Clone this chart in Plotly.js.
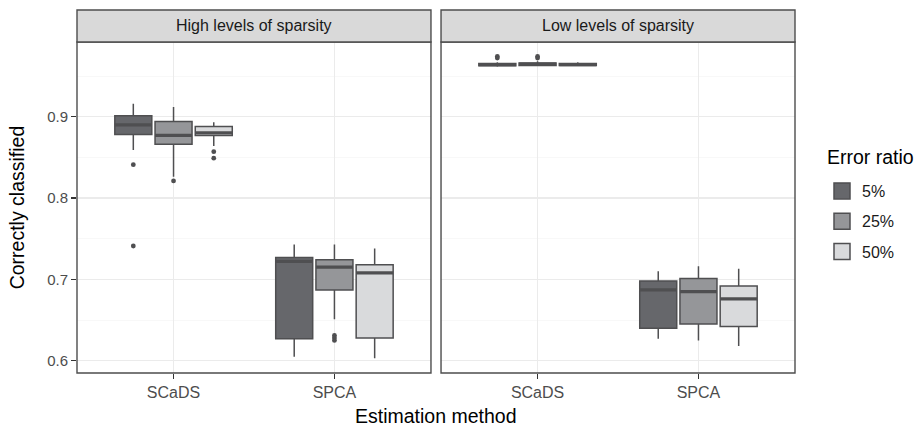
<!DOCTYPE html>
<html>
<head>
<meta charset="utf-8">
<script src="https://cdn.plot.ly/plotly-3.0.1.min.js"></script>
<style>html,body{margin:0;padding:0;background:#fff;}#chart{width:915px;height:428px;}</style>
</head>
<body>
<div id="chart"></div>
<script>
// ---- data ----
const panels = ["High levels of sparsity", "Low levels of sparsity"];
const methods = ["SCaDS", "SPCA"];
const ratios = ["5%", "25%", "50%"];

// stats per ratio -> [SCaDS, SPCA]
const high_q1     = [[0.878, 0.627], [0.866, 0.687], [0.877, 0.628]];
const high_median = [[0.890, 0.722], [0.877, 0.715], [0.880, 0.708]];
const high_q3     = [[0.901, 0.727], [0.894, 0.724], [0.888, 0.718]];
const high_lower  = [[0.859, 0.605], [0.826, 0.651], [0.864, 0.603]];
const high_upper  = [[0.916, 0.743], [0.912, 0.743], [0.893, 0.738]];
const high_outliers = [
  [[0.841, 0.741], []],
  [[0.821], [0.631, 0.628, 0.625]],
  [[0.857, 0.849], []]
];

const low_q1     = [[0.9625, 0.640], [0.9630, 0.645], [0.9628, 0.642]];
const low_median = [[0.9640, 0.687], [0.9645, 0.685], [0.9640, 0.676]];
const low_q3     = [[0.9655, 0.698], [0.9660, 0.701], [0.9655, 0.692]];
const low_lower  = [[0.9615, 0.627], [0.9620, 0.625], [0.9620, 0.618]];
const low_upper  = [[0.9670, 0.710], [0.9680, 0.716], [0.9670, 0.713]];
const low_outliers = [
  [[0.972, 0.974], []],
  [[0.972, 0.974], []],
  [[], []]
];

const yTicks = [0.6, 0.7, 0.8, 0.9];
const yMinor = [0.65, 0.75, 0.85, 0.95];

// ---- styling ----
const fills = ["#66676b", "#959699", "#d9dadc"];
const lineCol = "#4f4f51";
const dodge = 0.25, boxW = 0.23;
const font = "Liberation Sans, Arial, Helvetica, sans-serif";

const stats = [
  {q1: high_q1, med: high_median, q3: high_q3, lo: high_lower, up: high_upper, out: high_outliers},
  {q1: low_q1, med: low_median, q3: low_q3, lo: low_lower, up: low_upper, out: low_outliers}
];

const traces = [];
stats.forEach((s, p) => {
  const xa = p === 0 ? "x" : "x2";
  const ya = p === 0 ? "y" : "y2";
  ratios.forEach((r, k) => {
    const xs = methods.map((m, i) => (i + 1) + (k - 1) * dodge);
    traces.push({
      type: "box", name: r, xaxis: xa, yaxis: ya,
      x: xs, q1: s.q1[k], median: s.med[k], q3: s.q3[k],
      lowerfence: s.lo[k], upperfence: s.up[k],
      width: boxW, fillcolor: fills[k],
      line: {color: lineCol, width: 1.5},
      whiskerwidth: 0, boxpoints: false,
      showlegend: false, hoverinfo: "skip"
    });
    // thicker median bars
    const mx = [], my = [];
    xs.forEach((x, i) => { mx.push(x - boxW / 2, x + boxW / 2, null); my.push(s.med[k][i], s.med[k][i], null); });
    traces.push({
      type: "scatter", mode: "lines", xaxis: xa, yaxis: ya,
      x: mx, y: my, line: {color: lineCol, width: 3.2},
      showlegend: false, hoverinfo: "skip"
    });
    // outliers
    const ox = [], oy = [];
    methods.forEach((m, i) => {
      s.out[k][i].forEach(v => { ox.push(xs[i]); oy.push(v); });
    });
    if (ox.length) {
      traces.push({
        type: "scatter", mode: "markers", xaxis: xa, yaxis: ya,
        x: ox, y: oy,
        marker: {color: lineCol, size: 4.8},
        showlegend: false, hoverinfo: "skip"
      });
    }
  });
});
// legend keys
ratios.forEach((r, k) => {
  traces.push({
    type: "scatter", mode: "markers", name: r, x: [null], y: [null], xaxis: "x", yaxis: "y",
    marker: {symbol: "square", size: 16, color: fills[k], line: {color: lineCol, width: 1.5}},
    legendgroup: r, showlegend: true, hoverinfo: "skip"
  });
});

const yRange = [0.5849, 0.9918];
const xCommon = {
  range: [0.4, 2.6], tickvals: [1, 2], ticktext: methods,
  showgrid: true, gridcolor: "#ebebeb", gridwidth: 1.1,
  zeroline: false, showline: false,
  ticks: "outside", ticklen: 5, tickwidth: 1.1, tickcolor: "#333333",
  tickfont: {family: font, size: 16, color: "#4d4d4d"}
};
const yCommon = {
  range: yRange, tickvals: yTicks, ticktext: yTicks.map(v => v.toFixed(1)),
  showgrid: true, gridcolor: "#ebebeb", gridwidth: 1.1, zeroline: false,
  minor: {tickvals: yMinor, showgrid: true, gridcolor: "#f4f4f4", gridwidth: 0.6, ticks: ""},
  showline: false
};

const stripH = 32 / 331;
const shapes = [];
const annotations = [];
["x", "x2"].forEach((xa, p) => {
  const ya = p === 0 ? "y" : "y2";
  shapes.push({type: "rect", xref: xa + " domain", yref: ya + " domain", x0: 0, x1: 1, y0: 0, y1: 1,
    line: {color: "#4d4d4d", width: 1.4}, fillcolor: "rgba(0,0,0,0)", layer: "above"});
  shapes.push({type: "rect", xref: xa + " domain", yref: ya + " domain", x0: 0, x1: 1, y0: 1, y1: 1 + stripH,
    line: {color: "#4d4d4d", width: 1.4}, fillcolor: "#d9d9d9", layer: "above"});
  annotations.push({text: panels[p], xref: xa + " domain", yref: ya + " domain", x: 0.5, y: 1 + stripH / 2,
    showarrow: false, xanchor: "center", yanchor: "middle",
    font: {family: font, size: 16, color: "#1a1a1a"}});
});
annotations.push({text: "Estimation method", xref: "paper", yref: "paper", x: 0.5, y: -(416 - 373) / 331,
  showarrow: false, xanchor: "center", yanchor: "middle", font: {family: font, size: 19.5, color: "#000"}});
// legend title
annotations.push({text: "Error ratio", xref: "paper", yref: "paper", x: (825 - 77) / 718, y: (373 - 157) / 331,
  showarrow: false, xanchor: "left", yanchor: "middle", font: {family: font, size: 19.5, color: "#000"}});

const layout = {
  width: 915, height: 428,
  margin: {l: 77, r: 120, t: 42, b: 55},
  paper_bgcolor: "#fff", plot_bgcolor: "#fff",
  boxmode: "overlay",
  font: {family: font},
  xaxis: Object.assign({}, xCommon, {domain: [0, 0.493], anchor: "y"}),
  xaxis2: Object.assign({}, xCommon, {domain: [0.507, 1], anchor: "y2"}),
  yaxis: Object.assign({}, yCommon, {domain: [0, 1], anchor: "x",
    ticks: "outside", ticklen: 5, tickwidth: 1.1, tickcolor: "#333333",
    tickfont: {family: font, size: 15, color: "#4d4d4d"},
    title: {text: "Correctly classified", font: {family: font, size: 19.5, color: "#000"}, standoff: 16.5}}),
  yaxis2: Object.assign({}, yCommon, {domain: [0, 1], anchor: "x2", matches: "y", showticklabels: false, ticks: ""}),
  shapes: shapes,
  annotations: annotations,
  legend: {
    font: {family: font, size: 16, color: "#1a1a1a"},
    xref: "container", yref: "container",
    x: 822 / 915, xanchor: "left", y: 1 - 174 / 428, yanchor: "top",
    traceorder: "grouped", tracegroupgap: 6.5, bgcolor: "rgba(0,0,0,0)"
  },
  showlegend: true
};

Plotly.newPlot("chart", traces, layout, {staticPlot: true, displayModeBar: false});
</script>
</body>
</html>
